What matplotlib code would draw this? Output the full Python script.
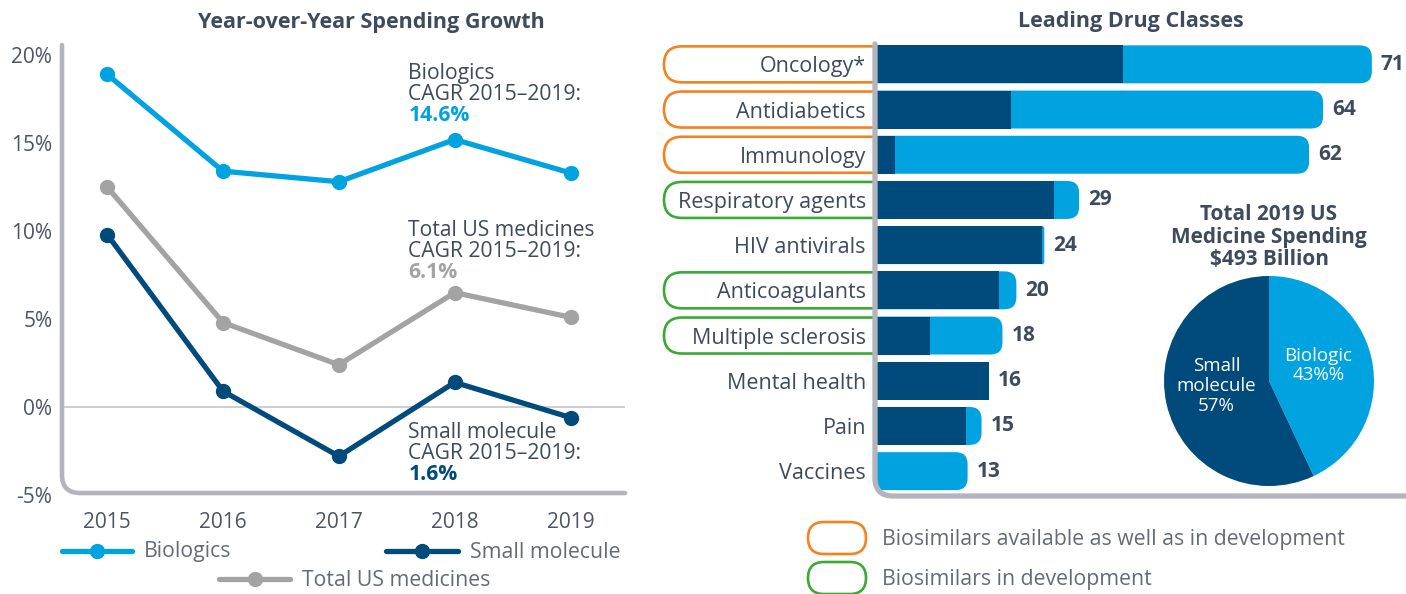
import numpy as np
import matplotlib.pyplot as plt
from matplotlib.patches import FancyBboxPatch, PathPatch, Rectangle
from matplotlib.lines import Line2D
from matplotlib.path import Path

plt.rcParams['font.family'] = ['Open Sans', 'DejaVu Sans']

# data
years = [2015, 2016, 2017, 2018, 2019]
biologics = [18.9, 13.4, 12.8, 15.2, 13.3]
total_us = [12.5, 4.8, 2.4, 6.5, 5.1]
small_molecule = [9.8, 0.9, -2.8, 1.4, -0.6]

classes = ["Oncology*", "Antidiabetics", "Immunology", "Respiratory agents", "HIV antivirals",
           "Anticoagulants", "Multiple sclerosis", "Mental health", "Pain", "Vaccines"]
class_totals = [71, 64, 62, 29, 24, 20, 18, 16, 15, 13]
class_small = [35.3, 19.2, 2.6, 25.4, 23.7, 17.5, 7.6, 16, 12.8, 0]
class_biosim = ["avail", "avail", "avail", "dev", None, "dev", "dev", None, None, None]

pie_labels = ["Biologic\n43%%", "Small\nmolecule\n57%"]
pie_shares = [43, 57]

# colours
C_BIO = '#00a3e0'
C_SMALL = '#004a7c'
C_TOTAL = '#a3a3a3'
C_TEXT = '#3d4b5c'
C_LEG = '#636b78'
C_SPINE = '#b4b4bc'
C_ORANGE = '#f5821f'
C_GREEN = '#3aaa35'

W, H = 1406, 594
fig = plt.figure(figsize=(W / 100, H / 100), dpi=100)


def box(x0, y0, x1, y1):
    # pixel box (from top-left) -> figure fraction
    return [x0 / W, 1 - y1 / H, (x1 - x0) / W, (y1 - y0) / H]


# overlay in pixel units, for spines / pills / legends
ov = fig.add_axes([0, 0, 1, 1], zorder=5)
ov.set_xlim(0, W)
ov.set_ylim(H, 0)
ov.axis('off')
ov.patch.set_alpha(0)

# ---------------- left: line chart ----------------
ax = fig.add_axes(box(62, 45, 625, 495))
ax.set_xlim(2014.61, 2019.47)
ax.set_ylim(-5, 20.57)
for s in ax.spines.values():
    s.set_visible(False)
ax.axhline(0, color='#c9c9d1', lw=1.3, zorder=1)

series = [(biologics, C_BIO), (total_us, C_TOTAL), (small_molecule, C_SMALL)]
for vals, col in series:
    ax.plot(years, vals, color=col, lw=3.8, marker='o', ms=10, clip_on=False, zorder=3,
            solid_joinstyle='round')

ax.set_xticks(years)
ax.set_xticklabels([str(y) for y in years])
ax.set_yticks([-5, 0, 5, 10, 15, 20])
ax.set_yticklabels(['-5%', '0%', '5%', '10%', '15%', '20%'])
ax.tick_params(axis='both', length=0, labelsize=15, labelcolor='#4b5563')
ax.tick_params(axis='x', pad=12)
ax.tick_params(axis='y', pad=7)
ax.set_title('Year-over-Year Spending Growth', fontsize=15.5, fontweight='bold',
             color=C_TEXT, pad=12, x=0.55)

notes = [("Biologics\nCAGR 2015–2019:", "14.6%", C_BIO, 19.55),
         ("Total US medicines\nCAGR 2015–2019:", "6.1%", C_TOTAL, 10.65),
         ("Small molecule\nCAGR 2015–2019:", "1.6%", C_SMALL, -0.85)]
for txt, val, col, ytop in notes:
    ax.text(2017.6, ytop, txt, fontsize=15.2, color=C_TEXT, va='top', ha='left', linespacing=1.0)
    ax.text(2017.6, ytop - 2.4, val, fontsize=15.2, color=col, fontweight='bold', va='top', ha='left')


def corner_spine(x_left, y_top, y_bottom, x_right, r, lw):
    verts = [(x_left, y_top), (x_left, y_bottom - r), (x_left, y_bottom), (x_left + r, y_bottom),
             (x_right, y_bottom)]
    codes = [Path.MOVETO, Path.LINETO, Path.CURVE3, Path.CURVE3, Path.LINETO]
    ov.add_patch(PathPatch(Path(verts, codes), fill=False, edgecolor=C_SPINE, lw=lw,
                           capstyle='round', zorder=4))


corner_spine(62, 45, 493, 625, 18, 3.3)

# legend for the line chart
leg = [(62, 132, 551, C_BIO, 'Biologics'), (386, 458, 551, C_SMALL, 'Small molecule'),
       (219, 290, 579, C_TOTAL, 'Total US medicines')]
for x0, x1, yy, col, lab in leg:
    ov.add_line(Line2D([x0, x1], [yy, yy], color=col, lw=3.8, solid_capstyle='round'))
    ov.plot([(x0 + x1) / 2], [yy], 'o', color=col, ms=10)
    ov.text(x1 + 12, yy + 1, lab, fontsize=15.3, color=C_LEG, va='center', ha='left')

# ---------------- right: bar chart ----------------
bx = fig.add_axes(box(877, 44, 1406, 496))
bx.set_xlim(0, 75.9)
bx.set_ylim(len(classes) - 0.45, -0.45)
bx.patch.set_alpha(0)
for s in bx.spines.values():
    s.set_visible(False)

bar_h = 0.84
px_x = 529 / 75.9
px_y = 452 / 10.0
r_round = 12 / px_x
for i, (tot, sm) in enumerate(zip(class_totals, class_small)):
    light = tot - sm
    if light > 0:
        rr = min(r_round, light)
        p = FancyBboxPatch((-4, i - bar_h / 2), tot + 4, bar_h,
                           boxstyle=f"round,pad=0,rounding_size={rr}",
                           mutation_aspect=px_x / px_y, facecolor=C_BIO, edgecolor='none')
        bx.add_patch(p)
        p.set_clip_on(True)
bx.barh(range(len(classes)), class_small, height=bar_h, color=C_SMALL, edgecolor='none')
for i, tot in enumerate(class_totals):
    bx.text(tot + 1.3, i, str(tot), fontsize=15, fontweight='bold', color=C_TEXT,
            va='center', ha='left')

bx.set_yticks(range(len(classes)))
bx.set_yticklabels(classes)
bx.set_xticks([])
bx.tick_params(axis='y', length=0, labelsize=15.5, labelcolor=C_TEXT, pad=8)
bx.set_title('Leading Drug Classes', fontsize=15.5, fontweight='bold', color=C_TEXT,
             pad=12, x=0.48)

# biosimilar pills behind the category labels, cut at the axis line
pill_col = {"avail": C_ORANGE, "dev": C_GREEN}
clip_rect = Rectangle((0, 0), 875, H, transform=ov.transData)
for i, kind in enumerate(class_biosim):
    if kind is None:
        continue
    yc = H - bx.transData.transform((0, i))[1]
    pill = FancyBboxPatch((664, yc - 18), 240, 36,
                          boxstyle="round,pad=0,rounding_size=18",
                          facecolor='none', edgecolor=pill_col[kind], lw=1.9, zorder=2)
    ov.add_patch(pill)
    pill.set_clip_path(clip_rect)

corner_spine(875, 44, 496, 1410, 18, 3.8)

# legend for the pills
for yc, kind, lab in [(538, "avail", "Biosimilars available as well as in development"),
                      (578, "dev", "Biosimilars in development")]:
    ov.add_patch(FancyBboxPatch((808, yc - 16), 58, 32, boxstyle="round,pad=0,rounding_size=16",
                                facecolor='none', edgecolor=pill_col[kind], lw=1.9))
    ov.text(882, yc + 2, lab, fontsize=15.3, color=C_LEG, va='center', ha='left')

# ---------------- pie ----------------
px = fig.add_axes(box(1164, 276, 1374, 486), zorder=6)
px.pie(pie_shares, colors=[C_BIO, C_SMALL], startangle=90, counterclock=False,
       wedgeprops=dict(linewidth=0))
px.set_xlim(-1, 1)
px.set_ylim(-1, 1)
px.set_aspect('equal')
px.text(0.47, 0.15, pie_labels[0], color='white', fontsize=13.5, ha='center', va='center',
        linespacing=1.05)
px.text(-0.5, -0.05, pie_labels[1], color='white', fontsize=13.5, ha='center', va='center',
        linespacing=1.15)
ov.text(1269, 237, "Total 2019 US\nMedicine Spending\n$493 Billion", fontsize=15,
        fontweight='bold', color=C_TEXT, ha='center', va='center', linespacing=1.1)

fig.savefig('out.png', dpi=100)
